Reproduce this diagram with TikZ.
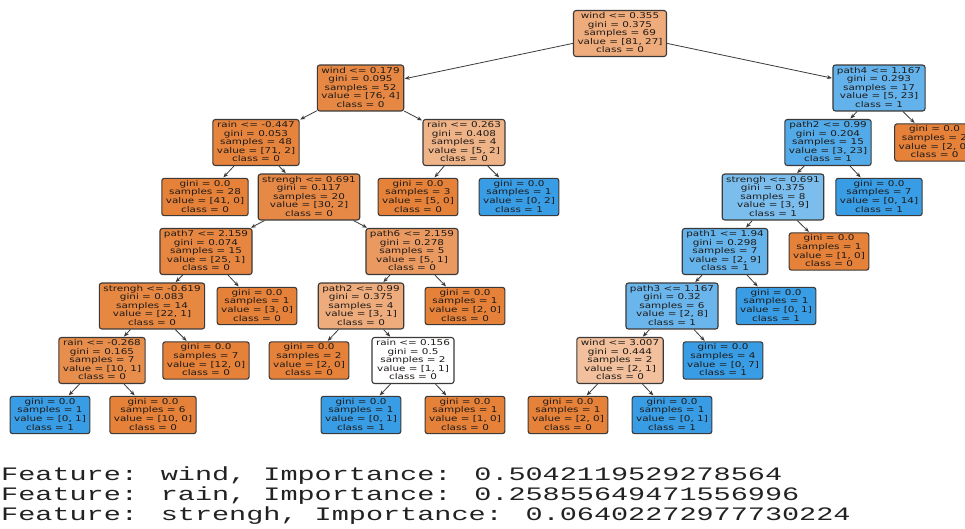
\documentclass[tikz,border=0pt]{standalone}
\usepackage{fontspec}
\usetikzlibrary{arrows.meta}
\newfontfamily\treefont[FakeStretch=1.3]{DejaVu Sans}
\newfontfamily\outfont[FakeStretch=1.5]{Liberation Mono}
\definecolor{cO}{HTML}{E58139}
\definecolor{cB}{HTML}{399DE5}
\definecolor{cRoot}{HTML}{EEAB7B}
\definecolor{cWa}{HTML}{E68843}
\definecolor{cRa}{HTML}{E6843E}
\definecolor{cRb}{HTML}{EFB388}
\definecolor{cSa}{HTML}{E78946}
\definecolor{cPs}{HTML}{E68641}
\definecolor{cSb}{HTML}{E68742}
\definecolor{cRc}{HTML}{E88E4D}
\definecolor{cPx}{HTML}{EA9A61}
\definecolor{cPl}{HTML}{EEAB7B}
\definecolor{cWc}{HTML}{F2C09C}
\definecolor{cPf}{HTML}{64B2EB}
\definecolor{cPr}{HTML}{53AAE8}
\definecolor{cSr}{HTML}{7BBEEE}
\definecolor{cPo}{HTML}{65B3EB}
\definecolor{cPt}{HTML}{6AB5EB}
\definecolor{edgec}{HTML}{3A3A3A}
\definecolor{bordc}{HTML}{3C3A38}
\definecolor{outc}{HTML}{222222}
\definecolor{treetext}{HTML}{1E1A18}
\tikzset{
  tnode/.style={draw=bordc, line width=1.1pt, rounded corners=2.5pt,
    font=\treefont\fontsize{8}{8.6}\selectfont, align=center,
    inner xsep=4pt, inner ysep=2pt, text depth=1.5pt, text=treetext},
  conn/.style={draw=edgec, line width=0.8pt, shorten >=0.5pt,
    -{Stealth[length=5pt,width=4pt]}},
  outline/.style={anchor=base west, inner sep=0pt, text=outc,
    font=\outfont\fontsize{19}{19}\selectfont}
}
\begin{document}
\begin{tikzpicture}[x=1pt,y=-1pt]
\useasboundingbox (0,0) rectangle (965,528);
\clip (0,0) rectangle (965,528);
% level 0
\node[tnode, fill=cRoot] (n0) at (620,33.5) {wind <= 0.355\\gini = 0.375\\samples = 69\\value = [81, 27]\\class = 0};
% level 1
\node[tnode, fill=cWa] (n1) at (360.5,88) {wind <= 0.179\\gini = 0.095\\samples = 52\\value = [76, 4]\\class = 0};
\node[tnode, fill=cPf] (n2) at (879,88) {path4 <= 1.167\\gini = 0.293\\samples = 17\\value = [5, 23]\\class = 1};
% level 2
\node[tnode, fill=cRa] (n3) at (256,142.5) {rain <= -0.447\\gini = 0.053\\samples = 48\\value = [71, 2]\\class = 0};
\node[tnode, fill=cRb] (n4) at (464,142.5) {rain <= 0.263\\gini = 0.408\\samples = 4\\value = [5, 2]\\class = 0};
\node[tnode, fill=cPr] (n5) at (828,142.5) {path2 <= 0.99\\gini = 0.204\\samples = 15\\value = [3, 23]\\class = 1};
\node[tnode, fill=cO] (n6) at (934.5,142.5) {gini = 0.0\\samples = 2\\value = [2, 0]\\class = 0};
% level 3
\node[tnode, fill=cO] (n7) at (205,197) {gini = 0.0\\samples = 28\\value = [41, 0]\\class = 0};
\node[tnode, fill=cSa] (n8) at (309,197) {strengh <= 0.691\\gini = 0.117\\samples = 20\\value = [30, 2]\\class = 0};
\node[tnode, fill=cO] (n9) at (418,197) {gini = 0.0\\samples = 3\\value = [5, 0]\\class = 0};
\node[tnode, fill=cB] (n10) at (519,197) {gini = 0.0\\samples = 1\\value = [0, 2]\\class = 1};
\node[tnode, fill=cSr] (n11) at (773,197) {strengh <= 0.691\\gini = 0.375\\samples = 8\\value = [3, 9]\\class = 1};
\node[tnode, fill=cB] (n12) at (879,197) {gini = 0.0\\samples = 7\\value = [0, 14]\\class = 1};
% level 4
\node[tnode, fill=cPs] (n13) at (206,251.5) {path7 <= 2.159\\gini = 0.074\\samples = 15\\value = [25, 1]\\class = 0};
\node[tnode, fill=cPx] (n14) at (412,251.5) {path6 <= 2.159\\gini = 0.278\\samples = 5\\value = [5, 1]\\class = 0};
\node[tnode, fill=cPo] (n15) at (725,251.5) {path1 <= 1.94\\gini = 0.298\\samples = 7\\value = [2, 9]\\class = 1};
\node[tnode, fill=cO] (n16) at (829,251.5) {gini = 0.0\\samples = 1\\value = [1, 0]\\class = 0};
% level 5
\node[tnode, fill=cSb] (n17) at (152,306) {strengh <= -0.619\\gini = 0.083\\samples = 14\\value = [22, 1]\\class = 0};
\node[tnode, fill=cO] (n18) at (257,306) {gini = 0.0\\samples = 1\\value = [3, 0]\\class = 0};
\node[tnode, fill=cPl] (n19) at (361,306) {path2 <= 0.99\\gini = 0.375\\samples = 4\\value = [3, 1]\\class = 0};
\node[tnode, fill=cO] (n20) at (465,306) {gini = 0.0\\samples = 1\\value = [2, 0]\\class = 0};
\node[tnode, fill=cPt] (n21) at (672,306) {path3 <= 1.167\\gini = 0.32\\samples = 6\\value = [2, 8]\\class = 1};
\node[tnode, fill=cB] (n22) at (776,306) {gini = 0.0\\samples = 1\\value = [0, 1]\\class = 1};
% level 6
\node[tnode, fill=cRc] (n23) at (102,360.5) {rain <= -0.268\\gini = 0.165\\samples = 7\\value = [10, 1]\\class = 0};
\node[tnode, fill=cO] (n24) at (206,360.5) {gini = 0.0\\samples = 7\\value = [12, 0]\\class = 0};
\node[tnode, fill=cO] (n25) at (309,360.5) {gini = 0.0\\samples = 2\\value = [2, 0]\\class = 0};
\node[tnode, fill=white] (n26) at (413,360.5) {rain <= 0.156\\gini = 0.5\\samples = 2\\value = [1, 1]\\class = 0};
\node[tnode, fill=cWc] (n27) at (620,360.5) {wind <= 3.007\\gini = 0.444\\samples = 2\\value = [2, 1]\\class = 0};
\node[tnode, fill=cB] (n28) at (723,360.5) {gini = 0.0\\samples = 4\\value = [0, 7]\\class = 1};
% level 7
\node[tnode, fill=cB] (n29) at (50,415) {gini = 0.0\\samples = 1\\value = [0, 1]\\class = 1};
\node[tnode, fill=cO] (n30) at (153,415) {gini = 0.0\\samples = 6\\value = [10, 0]\\class = 0};
\node[tnode, fill=cB] (n31) at (361,415) {gini = 0.0\\samples = 1\\value = [0, 1]\\class = 1};
\node[tnode, fill=cO] (n32) at (465,415) {gini = 0.0\\samples = 1\\value = [1, 0]\\class = 0};
\node[tnode, fill=cO] (n33) at (568,415) {gini = 0.0\\samples = 1\\value = [2, 0]\\class = 0};
\node[tnode, fill=cB] (n34) at (672,415) {gini = 0.0\\samples = 1\\value = [0, 1]\\class = 1};
% connectors
\foreach \p/\c in {n0/n1,n0/n2,n1/n3,n1/n4,n2/n5,n2/n6,n3/n7,n3/n8,n4/n9,n4/n10,
  n5/n11,n5/n12,n8/n13,n8/n14,n11/n15,n11/n16,n13/n17,n13/n18,n14/n19,n14/n20,
  n15/n21,n15/n22,n17/n23,n17/n24,n19/n25,n19/n26,n21/n27,n21/n28,
  n23/n29,n23/n30,n26/n31,n26/n32,n27/n33,n27/n34}
  \draw[conn] (\p) -- (\c);
% feature importance output
\node[outline] (f1) at (1,480) {Feature: wind, Importance: 0.5042119529278564};
\node[outline] (f2) at (1,500) {Feature: rain, Importance: 0.25855649471556996};
\node[outline] (f3) at (1,520) {Feature: strengh, Importance: 0.06402272977730224};
\end{tikzpicture}
\end{document}
